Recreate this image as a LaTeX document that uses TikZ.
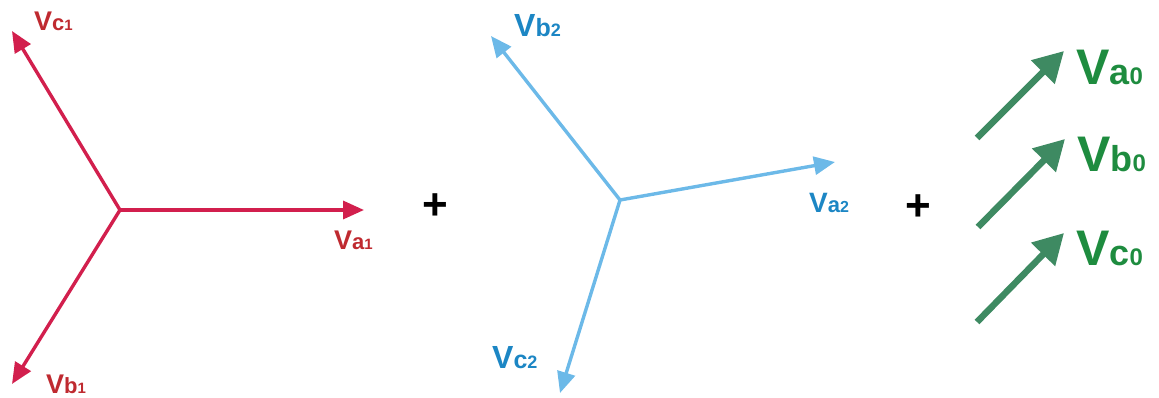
\documentclass[tikz,border=0pt]{standalone}
\usepackage{fontspec}
\setmainfont{Liberation Sans}
\usetikzlibrary{arrows.meta}
\definecolor{redln}{HTML}{D21F4D}
\definecolor{redtx}{HTML}{BF2A30}
\definecolor{blueln}{HTML}{6CB9E8}
\definecolor{bluetx}{HTML}{1C86C4}
\definecolor{greenln}{HTML}{3E8A62}
\definecolor{greentx}{HTML}{1E8C3F}
% #1 letter, #2 digit, #3 size of V, #4 size of letter, #5 size of digit
\newcommand{\vlab}[5]{{\fontsize{#3}{#3}\selectfont V}{\fontsize{#4}{#4}\selectfont #1}{\fontsize{#5}{#5}\selectfont #2}}
\tikzset{
  redvec/.style={draw=redln, line width=3.4pt, -{Triangle[length=21pt,width=18pt]}},
  bluevec/.style={draw=blueln, line width=3.4pt, -{Triangle[length=21pt,width=18pt]}},
  greenvec/.style={draw=greenln, line width=6.5pt, -{Triangle[length=30pt,width=32pt]}},
  redlab/.style={text=redtx, font=\bfseries, inner sep=0pt, anchor=base west},
  bluelab/.style={text=bluetx, font=\bfseries, inner sep=0pt, anchor=base west},
  greenlab/.style={text=greentx, font=\bfseries, inner sep=0pt, anchor=base west},
  plus/.style={font=\fontsize{44}{44}\selectfont\bfseries, inner sep=0pt}
}
\begin{document}
\begin{tikzpicture}[x=1pt,y=-1pt]
\useasboundingbox (0,0) rectangle (1159,398);
% red (positive sequence)
\coordinate (O1) at (120,210);
\coordinate (A1) at (364,210);
\coordinate (C1) at (12,31);
\coordinate (B1) at (12,384);
\draw[redvec] (O1) -- (A1);
\draw[redvec] (O1) -- (C1);
\draw[redvec] (O1) -- (B1);
\node[redlab] (la1) at (334,250) {\vlab{a}{1}{27}{22}{15}};
\node[redlab] (lc1) at (34,31) {\vlab{c}{1}{27}{22}{15}};
\node[redlab] (lb1) at (46,393) {\vlab{b}{1}{27}{22}{15}};
\node[plus] (p1) at (435,207) {+};
% blue (negative sequence)
\coordinate (O2) at (620,200);
\coordinate (A2) at (835,162);
\coordinate (B2) at (491,36);
\coordinate (C2) at (560,393);
\draw[bluevec] (O2) -- (A2);
\draw[bluevec] (O2) -- (B2);
\draw[bluevec] (O2) -- (C2);
\node[bluelab] (la2) at (809,213) {\vlab{a}{2}{28}{22}{16}};
\node[bluelab] (lb2) at (514,37) {\vlab{b}{2}{32}{25}{18}};
\node[bluelab] (lc2) at (492,368) {\vlab{c}{2}{32}{25}{18}};
\node[plus] (p2) at (918,208) {+};
% green (zero sequence)
\coordinate (S1) at (977,138);
\coordinate (T1) at (1064,51);
\coordinate (S2) at (978,227);
\coordinate (T2) at (1065,139);
\coordinate (S3) at (977,322);
\coordinate (T3) at (1064,233);
\draw[greenvec] (S1) -- (T1);
\draw[greenvec] (S2) -- (T2);
\draw[greenvec] (S3) -- (T3);
\node[greenlab] (la0) at (1076,85) {\vlab{a}{0}{50}{36}{24}};
\node[greenlab] (lb0) at (1077,172) {\vlab{b}{0}{50}{36}{24}};
\node[greenlab] (lc0) at (1076,265) {\vlab{c}{0}{50}{36}{24}};
\end{tikzpicture}
\end{document}
